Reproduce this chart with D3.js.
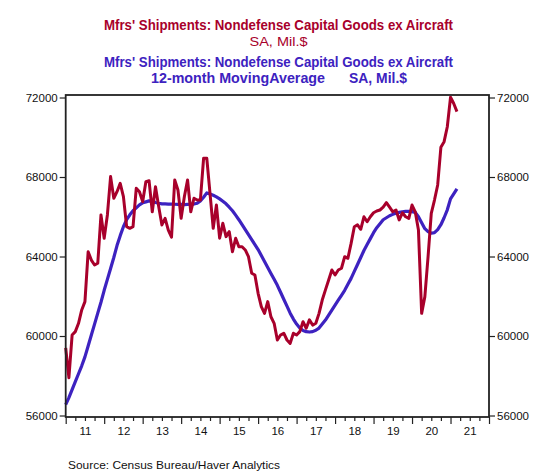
<!DOCTYPE html>
<html>
<head>
<meta charset="utf-8">
<script src="https://cdn.jsdelivr.net/npm/d3@7"></script>
<style>
  body { margin: 0; background: #fff; }
  svg { display: block; }
</style>
</head>
<body>
<div id="chart"></div>
<script>
// monthly data, Jan 2011 onwards
var startYear = 2011;

// Mfrs' shipments, nondefense capital goods ex aircraft (SA, Mil.$)
var shipments = [
  59400, 57900, 60050, 60220, 60640, 61310, 61730, 64240, 63820, 63570, 63660, 66090,
  64920, 66090, 68020, 66930, 67260, 67680, 67010, 65500, 65420, 65500, 67430, 67260,
  66760, 67760, 67810, 66250, 67510, 66510, 65590, 65920, 65330, 64970, 67850, 67350,
  65920, 67010, 67850, 66250, 66930, 66840, 66840, 68940, 68940, 67180, 65420, 66590,
  64920, 65670, 65000, 65250, 64240, 64920, 64490, 64490, 64330, 63990, 63160, 63070,
  62150, 61480, 61140, 61730, 60970, 60640, 59800, 60050, 60140, 59800, 59630, 60140,
  60050, 60220, 60720, 60390, 60810, 60550, 60640, 61140, 61810, 62320, 62820, 63320,
  63070, 63320, 63410, 63990, 63910, 64660, 65500, 65590, 65370, 66000, 65750, 66000,
  66200, 66290, 66340, 66480, 66710, 66480, 66250, 66340, 65840, 66200, 66000, 65920,
  66590, 66250, 65330, 61140, 61980, 63990, 66170, 66840, 67600, 69500, 69780, 70530,
  72010, 71700, 71290
];

// 12-month moving average (SA, Mil.$)
var movingAvg = [
  56550, 56900, 57300, 57700, 58100, 58500, 58950, 59500, 60050, 60600, 61150, 61700,
  62300, 62850, 63400, 63950, 64550, 65050, 65500, 65850, 66100, 66300, 66450, 66600,
  66700, 66750, 66800, 66780, 66720, 66680, 66650, 66650, 66640, 66640, 66630, 66620,
  66620, 66610, 66620, 66630, 66640, 66680, 66800, 66980, 67200, 67150, 67080, 67000,
  66900, 66780, 66650, 66480, 66300, 66080, 65850, 65600, 65350, 65100, 64850, 64600,
  64350, 64050, 63750, 63450, 63150, 62850, 62550, 62200, 61850, 61500, 61150, 60850,
  60600, 60400, 60280, 60220, 60200, 60220, 60290, 60400, 60600, 60800, 61050, 61300,
  61550, 61800, 62050, 62300, 62600, 62900, 63250, 63600, 63950, 64300, 64600, 64900,
  65200, 65450, 65650, 65850, 65950, 66050, 66120, 66180, 66220, 66250, 66270, 66270,
  66260, 66220, 66000, 65700, 65400, 65250, 65170, 65200, 65350, 65600, 65950, 66350,
  66900, 67150, 67400
];

// axis labels
var yTicks = [56000, 60000, 64000, 68000, 72000];
var yearLabels = ["11", "12", "13", "14", "15", "16", "17", "18", "19", "20", "21"];

var red = "#a8002b",
    blue = "#3d22c0";

var svg = d3.select("#chart").append("svg")
    .attr("width", 534)
    .attr("height", 474);

var plot = {left: 65.7, right: 489, top: 95, bottom: 417};

var x = d3.scaleLinear()
    .domain([startYear, startYear + yearLabels.length])
    .range([plot.left, plot.right]);

var y = d3.scaleLinear()
    .domain([55925, 72126])
    .range([plot.bottom, plot.top]);

var tickFont = "'Liberation Sans', Arial, sans-serif";
var narrowFont = "'Liberation Sans Narrow', 'Arial Narrow', 'Liberation Sans', Arial, sans-serif";

//titles
function title(txt, cx, base, len, color, weight, size) {
  svg.append("text")
     .attr("x", cx)
     .attr("y", base)
     .attr("text-anchor", "middle")
     .attr("fill", color)
     .style("font-family", narrowFont)
     .style("font-weight", weight)
     .style("font-size", size + "px")
     .attr("textLength", len)
     .attr("lengthAdjust", "spacingAndGlyphs")
     .text(txt);
}
title("Mfrs' Shipments: Nondefense Capital Goods ex Aircraft", 278.5, 29.5, 349, red, "bold", 15);
title("SA, Mil.$", 278.5, 45.5, 58, red, "normal", 13.5);
title("Mfrs' Shipments: Nondefense Capital Goods ex Aircraft", 278.5, 67, 349, blue, "bold", 15);
title("12-month MovingAverage", 238, 83, 174, blue, "bold", 15);
title("SA, Mil.$", 378, 83, 58, blue, "bold", 15);

// left axis
var leftAxis = svg.append("g")
    .attr("transform", "translate(" + plot.left + ",0)")
    .call(d3.axisLeft(y).tickValues(yTicks).tickSize(6).tickPadding(2).tickFormat(d3.format("d")));

// right axis
var rightAxis = svg.append("g")
    .attr("transform", "translate(" + plot.right + ",0)")
    .call(d3.axisRight(y).tickValues(yTicks).tickSize(6).tickPadding(2).tickFormat(d3.format("d")));

// bottom axis: year ticks, quarter ticks, labels at mid year
var years = d3.range(startYear, startYear + yearLabels.length + 1);
var quarters = d3.range(startYear, startYear + yearLabels.length, 0.25).filter(function(d) { return d % 1 !== 0; });

var xMajor = svg.append("g")
    .attr("transform", "translate(0," + plot.bottom + ")")
    .call(d3.axisBottom(x).tickValues(years).tickSize(7).tickFormat(""));
var xMinor = svg.append("g")
    .attr("transform", "translate(0," + plot.bottom + ")")
    .call(d3.axisBottom(x).tickValues(quarters).tickSize(4).tickFormat(""));
var xLabels = svg.append("g")
    .attr("transform", "translate(0," + plot.bottom + ")")
    .call(d3.axisBottom(x)
      .tickValues(yearLabels.map(function(d, i) { return startYear + i + 0.5; }))
      .tickSize(0).tickPadding(10)
      .tickFormat(function(d, i) { return yearLabels[i]; }));

[leftAxis, rightAxis, xMajor, xMinor, xLabels].forEach(function(g) {
  g.select(".domain").remove();
  g.selectAll("line").attr("stroke", "#222").attr("stroke-width", 1.2);
  g.selectAll("text")
   .attr("fill", "#111")
   .style("font-family", tickFont)
   .style("font-size", "11.5px");
});

// lines
var line = function(vals) {
  return d3.line()
    .x(function(d, i) { return x(startYear + i / 12); })
    .y(function(d) { return y(d); })(vals);
};

svg.append("path")
   .attr("d", line(movingAvg))
   .attr("fill", "none")
   .attr("stroke", blue)
   .attr("stroke-width", 3.2)
   .attr("stroke-linejoin", "round");

svg.append("path")
   .attr("d", line(shipments))
   .attr("fill", "none")
   .attr("stroke", red)
   .attr("stroke-width", 3)
   .attr("stroke-linejoin", "round");

//frame
svg.append("rect")
   .attr("x", plot.left)
   .attr("y", plot.top)
   .attr("width", plot.right - plot.left)
   .attr("height", plot.bottom - plot.top)
   .attr("fill", "none")
   .attr("stroke", "#222")
   .attr("stroke-width", 1.8);

//source note
svg.append("text")
   .attr("x", 68)
   .attr("y", 469)
   .attr("fill", "#111")
   .style("font-family", tickFont)
   .style("font-size", "11.5px")
   .attr("textLength", 212)
   .attr("lengthAdjust", "spacingAndGlyphs")
   .text("Source:  Census Bureau/Haver Analytics");
</script>
</body>
</html>
